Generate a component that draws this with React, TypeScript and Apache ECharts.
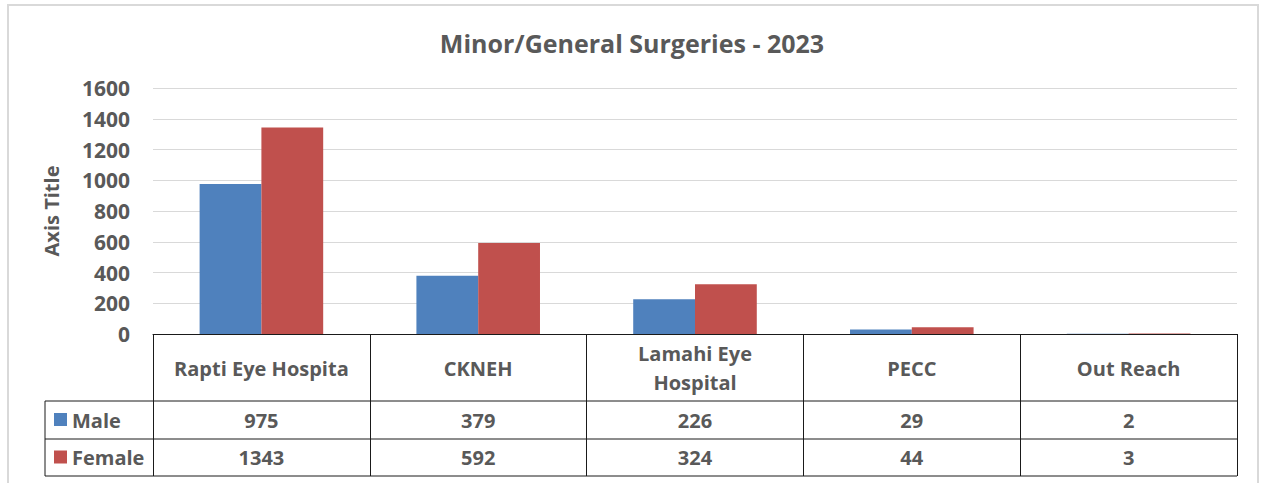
import React, { useEffect, useRef } from "react";
import * as echarts from "echarts";

const titleText = "Minor/General Surgeries - 2023";
const categories = ["Rapti Eye Hospita", "CKNEH", "Lamahi Eye\nHospital", "PECC", "Out Reach"];
const seriesNames = ["Male", "Female"];
const maleValues = [975, 379, 226, 29, 2];
const femaleValues = [1343, 592, 324, 44, 3];
const yTicks = { min: 0, max: 1600, interval: 200 };
const colors = ["#4f81bd", "#c0504d"];

const FONT = "'Open Sans', 'Noto Sans', sans-serif";
const TXT = "#595959";
const LINE = "#1a1a1a";
const W = "bold";

export default function App() {
  const ref = useRef<HTMLDivElement>(null);
  useEffect(() => {
    document.body.style.margin = "0";
    const chart = echarts.init(ref.current!, null, { renderer: "svg" });
    const base: any = {
      animation: false,
      backgroundColor: "#fff",
      title: {
        text: titleText,
        left: "center",
        top: 25,
        textStyle: { fontFamily: FONT, fontSize: 25, fontWeight: W, color: TXT },
      },
      grid: { left: 153, right: 27, top: 88, bottom: 149 },
      xAxis: {
        type: "category",
        data: categories,
        axisLine: { lineStyle: { color: LINE, width: 1 } },
        axisTick: { show: true, length: 142, interval: 0, lineStyle: { color: LINE, width: 1 } },
        axisLabel: {
          interval: 0,
          margin: 34,
          verticalAlign: "middle",
          fontFamily: FONT,
          fontSize: 20,
          fontWeight: W,
          lineHeight: 29,
          color: TXT,
        },
        splitLine: { show: false },
      },
      yAxis: {
        type: "value",
        min: yTicks.min,
        max: yTicks.max,
        interval: yTicks.interval,
        name: "Axis Title",
        nameLocation: "middle",
        nameGap: 92,
        nameTextStyle: { fontFamily: FONT, fontSize: 20, fontWeight: W, color: TXT },
        axisLine: { show: false },
        axisTick: { show: false },
        axisLabel: {
          margin: 23,
          fontFamily: FONT,
          fontSize: 21,
          fontWeight: W,
          color: TXT,
          formatter: (v: number) => String(v),
        },
        splitLine: { lineStyle: { color: "#d9d9d9", width: 1 } },
      },
      series: [
        {
          name: seriesNames[0],
          type: "bar",
          data: maleValues,
          itemStyle: { color: colors[0] },
          barGap: "0%",
          barCategoryGap: "43%",
        },
        {
          name: seriesNames[1],
          type: "bar",
          data: femaleValues,
          itemStyle: { color: colors[1] },
          barGap: "0%",
          barCategoryGap: "43%",
        },
      ],
    };
    chart.setOption(base);

    const rows = [maleValues, femaleValues];
    const rowY = [420, 457.5];
    const graphics: any[] = [];
    graphics.push({
      type: "rect",
      shape: { x: 8, y: 5, width: 1250, height: 490 },
      style: { fill: "none", stroke: "#d9d9d9", lineWidth: 2 },
      silent: true,
    });
    [401, 439, 476].forEach((y) => {
      graphics.push({
        type: "line",
        shape: { x1: 45, y1: y, x2: 1237, y2: y },
        style: { stroke: LINE, lineWidth: 1 },
      });
    });
    graphics.push({
      type: "line",
      shape: { x1: 45, y1: 401, x2: 45, y2: 476 },
      style: { stroke: LINE, lineWidth: 1 },
    });
    rows.forEach((vals, r) => {
      graphics.push({
        type: "rect",
        shape: { x: 54, y: rowY[r] - 7, width: 13, height: 13 },
        style: { fill: colors[r] },
      });
      graphics.push({
        type: "text",
        x: 72,
        y: rowY[r],
        style: {
          text: seriesNames[r],
          fontFamily: FONT,
          fontSize: 20,
          fontWeight: W,
          fill: TXT,
          align: "left",
          verticalAlign: "middle",
        },
      });
      vals.forEach((v, i) => {
        const px = chart.convertToPixel({ xAxisIndex: 0 }, i) as number;
        graphics.push({
          type: "text",
          x: px,
          y: rowY[r],
          style: {
            text: String(v),
            fontFamily: FONT,
            fontSize: 20,
            fontWeight: W,
            fill: TXT,
            align: "center",
            verticalAlign: "middle",
          },
        });
      });
    });
    chart.setOption({ graphic: graphics });
    return () => chart.dispose();
  }, []);
  return (
    <div
      ref={ref}
      style={{ position: "absolute", left: 0, top: 0, width: 1264, height: 483 }}
    />
  );
}
